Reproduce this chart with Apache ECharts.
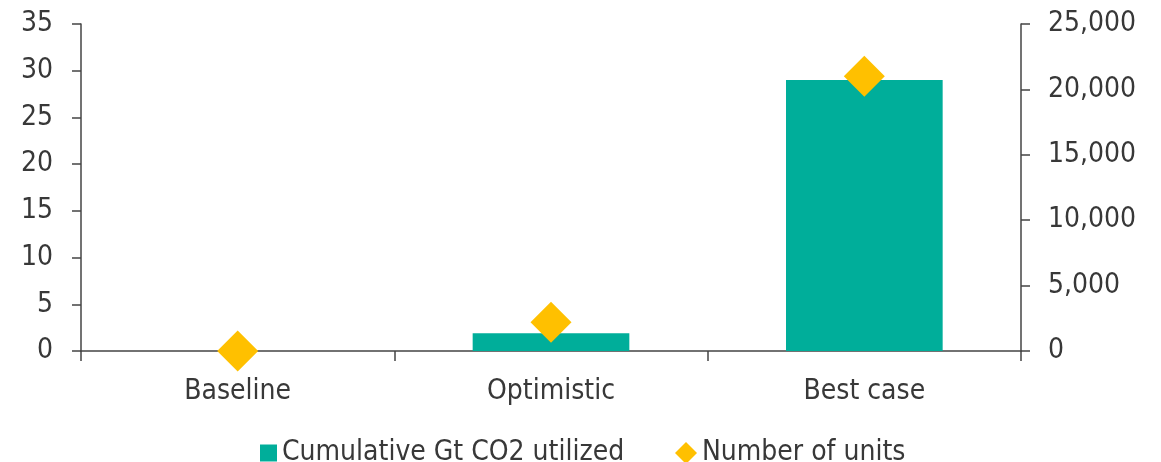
<!DOCTYPE html>
<html>
<head>
<meta charset="utf-8">
<script src="https://cdn.jsdelivr.net/npm/echarts@6/dist/echarts.min.js"></script>
<style>
  html, body { margin: 0; padding: 0; background: #fff; }
  #chart { width: 1161px; height: 462px; }
</style>
</head>
<body>
<div id="chart"></div>
<script>
// Scenarios on the x axis
const categories = ['Baseline', 'Optimistic', 'Best case'];
// Cumulative Gt CO2 utilized (left axis)
const co2Utilized = [0, 1.9, 29];
// Number of units (right axis)
const unitCount = [0, 2200, 21000];

const seriesNames = ['Cumulative Gt CO2 utilized', 'Number of units'];

const FONT = '"DejaVu Sans Condensed", "DejaVu Sans", sans-serif';
const TEXT = '#383838';
const AXIS = '#444444';
const SIZE = 28;

const legendText = { fontFamily: FONT, fontSize: SIZE, color: TEXT };

const chart = echarts.init(document.getElementById('chart'));

chart.setOption({
  animation: false,
  textStyle: { fontFamily: FONT },
  grid: { left: 81, right: 140, top: 24, bottom: 111, containLabel: false },
  // one legend block per series so each key mark keeps its own size
  legend: [
    {
      top: 434,
      left: 255,
      itemWidth: 17,
      itemHeight: 17,
      textStyle: legendText,
      data: [{ name: seriesNames[0], icon: 'rect' }]
    },
    {
      top: 434,
      left: 670,
      itemWidth: 22,
      itemHeight: 22,
      textStyle: legendText,
      data: [{ name: seriesNames[1], icon: 'diamond' }]
    }
  ],
  xAxis: {
    type: 'category',
    data: categories,
    boundaryGap: true,
    axisLine: { lineStyle: { color: AXIS, width: 1.5 } },
    axisTick: { show: true, length: 10, inside: false, lineStyle: { color: AXIS, width: 1.5 } },
    axisLabel: { fontFamily: FONT, fontSize: SIZE, color: TEXT, margin: 27 }
  },
  yAxis: [
    {
      type: 'value',
      min: 0, max: 35, interval: 5,
      axisLine: { show: true, lineStyle: { color: AXIS, width: 1.5 } },
      axisTick: { show: true, length: 9, lineStyle: { color: AXIS, width: 1.5 } },
      splitLine: { show: false },
      axisLabel: { fontFamily: FONT, fontSize: SIZE, color: TEXT, margin: 28 }
    },
    {
      type: 'value',
      position: 'right',
      min: 0, max: 25000, interval: 5000,
      axisLine: { show: true, lineStyle: { color: AXIS, width: 1.5 } },
      axisTick: { show: true, length: 9, lineStyle: { color: AXIS, width: 1.5 } },
      splitLine: { show: false },
      axisLabel: {
        fontFamily: FONT, fontSize: SIZE, color: TEXT, margin: 27,
        formatter: v => v.toLocaleString('en-US')
      }
    }
  ],
  series: [
    {
      name: seriesNames[0],
      type: 'bar',
      yAxisIndex: 0,
      data: co2Utilized,
      barWidth: '50%',
      itemStyle: { color: '#00AE9A' },
      z: 2
    },
    {
      name: seriesNames[1],
      type: 'scatter',
      yAxisIndex: 1,
      data: unitCount,
      symbol: 'diamond',
      symbolSize: 41,
      itemStyle: { color: '#FFC000', opacity: 1 },
      z: 5
    }
  ]
});
</script>
</body>
</html>
